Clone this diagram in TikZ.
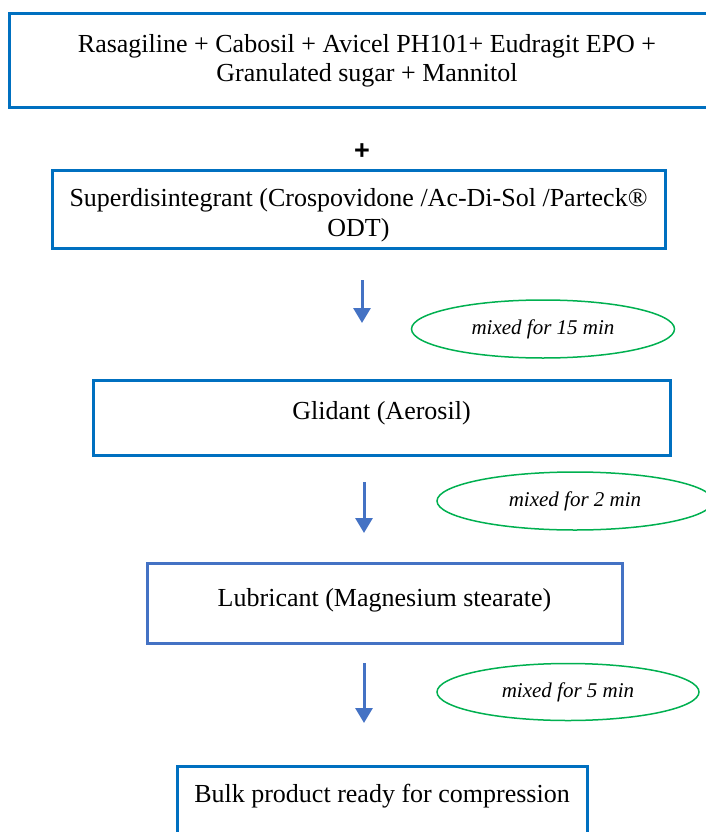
\documentclass[tikz,border=0pt]{standalone}
\usepackage{fontspec}
\setmainfont{Liberation Serif}
\setsansfont{Liberation Sans}
\usetikzlibrary{positioning,arrows.meta,shapes.geometric}
\definecolor{boxblue}{HTML}{0070C0}
\definecolor{lubblue}{HTML}{4472C4}
\definecolor{mixgreen}{HTML}{00B050}

\begin{document}
\begin{tikzpicture}[x=1pt, y=-1pt,
		stepbox/.style={draw=boxblue, line width=3pt, fill=white, rectangle,
				inner sep=0pt, align=center, font=\fontsize{26}{29.5}\selectfont},
		mixnote/.style={draw=mixgreen, line width=1.5pt, ellipse, inner sep=0pt,
				font=\fontsize{21}{25}\selectfont\itshape},
		plussign/.style={font=\sffamily\bfseries\fontsize{27}{28}\selectfont, inner sep=0pt},
		ar/.style={-{Triangle[width=17pt,length=15pt]}, line width=3pt, draw=lubblue},
	]
	\useasboundingbox (0,0) rectangle (705,832);
	% ingredients
	\node[stepbox, minimum width=716pt, minimum height=94pt] (blend) at (367,61)
	{Rasagiline + Cabosil + Avicel PH101+ Eudragit EPO +\\Granulated sugar + Mannitol};
	\node[plussign] (plus) at (362,152) {+};
	\node[stepbox, minimum width=613pt, minimum height=66pt, text height=66pt, text depth=12pt] (sdis) at (358.5,209)
	{Superdisintegrant (Crospovidone /Ac-Di-Sol /Parteck\textregistered\\ODT)};
	% mixing steps
	\coordinate (a1s) at (362,280);
	\coordinate (a1e) at (362,323);
	\draw[ar] (a1s) -- (a1e);
	\node[mixnote, minimum width=263pt, minimum height=58pt] (m15) at (543,329) {mixed for 15 min};
	\node[stepbox, minimum width=577pt, minimum height=75pt, text height=23pt, text depth=20pt] (glid) at (381.5,417.5)
	{Glidant (Aerosil)};
	\coordinate (a2s) at (364,482);
	\coordinate (a2e) at (364,533);
	\draw[ar] (a2s) -- (a2e);
	\node[mixnote, minimum width=276pt, minimum height=58pt] (m2) at (575,501) {mixed for 2 min};
	\node[stepbox, draw=lubblue, minimum width=475pt, minimum height=80pt, text height=23pt, text depth=17pt] (lub) at (384.5,603)
	{Lubricant (Magnesium stearate)};
	\coordinate (a3s) at (364,663);
	\coordinate (a3e) at (364,723);
	\draw[ar] (a3s) -- (a3e);
	\node[mixnote, minimum width=262pt, minimum height=57pt] (m5) at (568,692) {mixed for 5 min};
	% product
	\node[stepbox, minimum width=410pt, minimum height=74pt, text height=23pt, text depth=25pt] (bulk) at (382,803)
	{Bulk product ready for compression};
\end{tikzpicture}
\end{document}
